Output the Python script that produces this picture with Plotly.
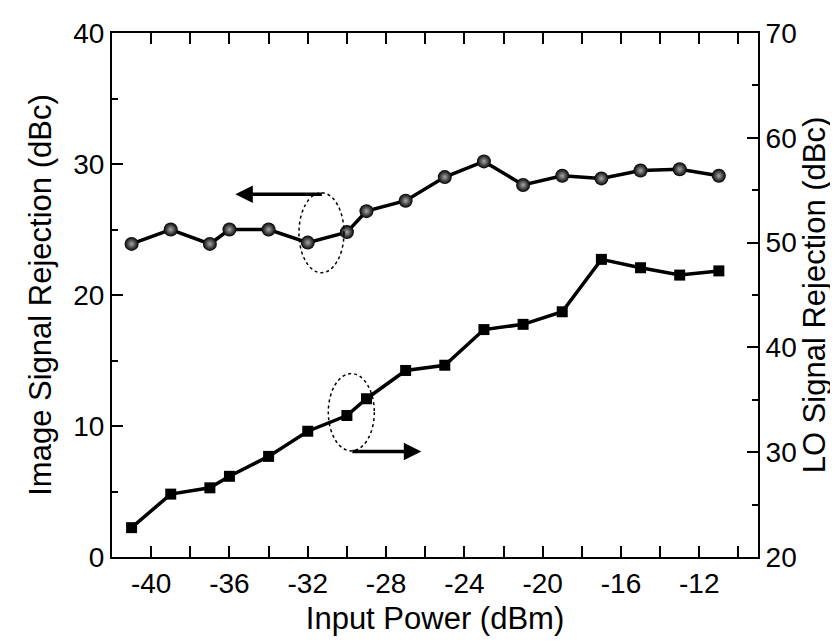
import plotly.graph_objects as go

# Data
input_power = [-41, -39, -37, -36, -34, -32, -30, -29, -27, -25, -23, -21, -19, -17, -15, -13, -11]
image_rejection = [23.9, 25.0, 23.9, 25.0, 25.0, 24.0, 24.8, 26.4, 27.2, 29.0, 30.2, 28.4, 29.1, 28.9, 29.5, 29.6, 29.1]
lo_rejection = [22.8, 26.0, 26.6, 27.7, 29.6, 32.0, 33.5, 35.1, 37.8, 38.3, 41.7, 42.2, 43.4, 48.4, 47.6, 46.9, 47.3]

x_ticks = [-40, -36, -32, -28, -24, -20, -16, -12]
x_tick_labels = ["-40", "-36", "-32", "-28", "-24", "-20", "-16", "-12"]
y_left_ticks = [0, 10, 20, 30, 40]
y_right_ticks = [20, 30, 40, 50, 60, 70]

FONT = "Liberation Sans, Arial, sans-serif"
TICK_SIZE = 28
TITLE_SIZE = 31

fig = go.Figure()

fig.add_trace(go.Scatter(
    x=input_power, y=image_rejection, mode="lines+markers",
    line=dict(color="black", width=3.5),
    marker=dict(symbol="circle", size=14, color="black",
                gradient=dict(type="radial", color="#a8a8a8"),
                line=dict(width=0)),
    showlegend=False, yaxis="y"))

fig.add_trace(go.Scatter(
    x=input_power, y=lo_rejection, mode="lines+markers",
    line=dict(color="black", width=3.5),
    marker=dict(symbol="square", size=11, color="black", line=dict(width=0)),
    showlegend=False, yaxis="y2"))

# dotted ellipses
fig.add_shape(type="circle", xref="x", yref="y", x0=-32.45, x1=-30.15, y0=21.7, y1=27.8,
              line=dict(color="black", width=1.5, dash="dot"))
fig.add_shape(type="circle", xref="x", yref="y", x0=-30.95, x1=-28.6, y0=8.1, y1=14.0,
              line=dict(color="black", width=1.5, dash="dot"))

# arrows
fig.add_annotation(x=-35.7, y=27.7, ax=-31.2, ay=27.7, xref="x", yref="y", axref="x", ayref="y",
                   text="", showarrow=True, arrowhead=2, arrowwidth=3.5, arrowsize=1.0, arrowcolor="black")
fig.add_annotation(x=-26.2, y=8.05, ax=-29.8, ay=8.05, xref="x", yref="y", axref="x", ayref="y",
                   text="", showarrow=True, arrowhead=2, arrowwidth=3.5, arrowsize=1.0, arrowcolor="black")

axis_common = dict(showline=True, linecolor="black", linewidth=2, showgrid=False, zeroline=False,
                   ticks="inside", ticklen=11, tickwidth=2, tickcolor="black", automargin=False,
                   tickfont=dict(family=FONT, size=TICK_SIZE, color="black"))

fig.update_layout(
    width=838, height=642,
    margin=dict(l=104, r=88, t=25, b=93),
    paper_bgcolor="white", plot_bgcolor="white",
    font=dict(family=FONT, color="black"),
    xaxis=dict(range=[-42, -9], tickvals=x_ticks, ticktext=x_tick_labels, mirror="allticks",
               minor=dict(tickvals=list(range(-42, -8, 2)), ticks="inside", ticklen=6, tickwidth=2, tickcolor="black"),
               title=dict(text="Input Power (dBm)", font=dict(family=FONT, size=TITLE_SIZE), standoff=10),
               **axis_common),
    yaxis=dict(range=[0, 40], tickvals=y_left_ticks,
               minor=dict(tickvals=[5, 15, 25, 35], ticks="inside", ticklen=6, tickwidth=2, tickcolor="black"),
               title=dict(text="Image Signal Rejection (dBc)", font=dict(family=FONT, size=TITLE_SIZE), standoff=12),
               **axis_common),
    yaxis2=dict(range=[20, 70], tickvals=y_right_ticks, overlaying="y", side="right",
                minor=dict(tickvals=[25, 35, 45, 55, 65], ticks="inside", ticklen=6, tickwidth=2, tickcolor="black"),
                title=dict(text="LO Signal Rejection (dBc)", font=dict(family=FONT, size=TITLE_SIZE), standoff=0),
                **axis_common),
)

fig.write_html("out.html")
